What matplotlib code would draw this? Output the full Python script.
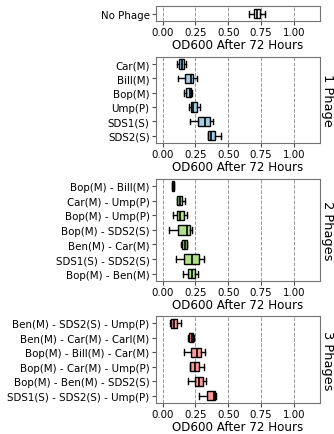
import matplotlib
matplotlib.use('Agg')
import matplotlib.pyplot as plt

# box stats: whisker low, Q1, median, Q3, whisker high
no_phage = ['No Phage']
no_phage_stats = [[0.66, 0.695, 0.72, 0.74, 0.78]]

one_phage = ['Car(M)', 'Bill(M)', 'Bop(M)', 'Ump(P)', 'SDS1(S)', 'SDS2(S)']
one_phage_stats = [
    [0.11, 0.125, 0.145, 0.16, 0.18],
    [0.12, 0.17, 0.22, 0.236, 0.26],
    [0.163, 0.18, 0.206, 0.216, 0.226],
    [0.20, 0.216, 0.236, 0.262, 0.287],
    [0.213, 0.272, 0.326, 0.358, 0.384],
    [0.343, 0.348, 0.369, 0.397, 0.445],
]

two_phage = ['Bop(M) - Bill(M)', 'Car(M) - Ump(P)', 'Bop(M) - Ump(P)',
             'Bop(M) - SDS2(S)', 'Ben(M) - Car(M)', 'SDS1(S) - SDS2(S)',
             'Bop(M) - Ben(M)']
two_phage_stats = [
    [0.072, 0.074, 0.079, 0.084, 0.086],
    [0.11, 0.112, 0.13, 0.148, 0.168],
    [0.079, 0.11, 0.135, 0.163, 0.183],
    [0.046, 0.117, 0.19, 0.206, 0.224],
    [0.137, 0.148, 0.17, 0.186, 0.188],
    [0.102, 0.165, 0.226, 0.277, 0.315],
    [0.153, 0.196, 0.221, 0.247, 0.272],
]

three_phage = ['Ben(M) - SDS2(S) - Ump(P)', 'Ben(M) - Car(M) - Carl(M)',
               'Bop(M) - Bill(M) - Car(M)', 'Bop(M) - Car(M) - Ump(P)',
               'Bop(M) - Ben(M) - SDS2(S)', 'SDS1(S) - SDS2(S) - Ump(P)']
three_phage_stats = [
    [0.054, 0.064, 0.089, 0.11, 0.14],
    [0.193, 0.203, 0.221, 0.236, 0.242],
    [0.165, 0.219, 0.259, 0.293, 0.325],
    [0.206, 0.211, 0.247, 0.277, 0.315],
    [0.191, 0.244, 0.28, 0.308, 0.33],
    [0.277, 0.338, 0.394, 0.402, 0.407],
]

xticks = [0.0, 0.25, 0.5, 0.75, 1.0]


def draw(ax, names, stats, color, side_label=None):
    boxes = []
    for n, s in zip(names, stats):
        boxes.append({'label': n, 'whislo': s[0], 'q1': s[1], 'med': s[2],
                      'q3': s[3], 'whishi': s[4], 'fliers': []})
    pos = list(range(len(names)))
    ax.bxp(boxes, positions=pos, vert=False, widths=0.65, capwidths=0.4,
           patch_artist=True, showfliers=False,
           boxprops=dict(facecolor=color, edgecolor='black', linewidth=1),
           medianprops=dict(color='black', linewidth=1.2),
           whiskerprops=dict(color='black', linewidth=1),
           capprops=dict(color='black', linewidth=1))
    ax.set_ylim(len(names) - 0.5, -0.5)
    ax.set_xlim(-0.05, 1.2)
    ax.set_xticks(xticks)
    ax.set_xticklabels(['%.2f' % t for t in xticks], fontsize=7.4)
    ax.set_yticks(pos)
    ax.set_yticklabels(names, fontsize=7.4)
    ax.tick_params(length=3, pad=1.5, color='0.3')
    ax.xaxis.grid(True, linestyle='--', color='0.6', linewidth=0.7)
    ax.set_axisbelow(True)
    ax.set_xlabel('OD600 After 72 Hours', fontsize=8.6, labelpad=0.5)
    for sp in ax.spines.values():
        sp.set_color('0.45')
    if side_label:
        ax2 = ax.twinx()
        ax2.set_yticks([])
        ax2.set_ylabel(side_label, rotation=-90, fontsize=9.4, labelpad=10)
        for sp in ax2.spines.values():
            sp.set_visible(False)


fig = plt.figure(figsize=(3.34, 4.35), dpi=100)
ax1 = fig.add_axes([0.467, 0.9494, 0.491, 0.0345])
ax2 = fig.add_axes([0.467, 0.669, 0.491, 0.198])
ax3 = fig.add_axes([0.467, 0.352, 0.491, 0.2345])
ax4 = fig.add_axes([0.467, 0.0713, 0.491, 0.2])

draw(ax1, no_phage, no_phage_stats, 'white')
draw(ax2, one_phage, one_phage_stats, '#a6cee3', '1 Phage')
draw(ax3, two_phage, two_phage_stats, '#b2df8a', '2 Phages')
draw(ax4, three_phage, three_phage_stats, '#fb9a99', '3 Phages')

fig.savefig('out.png', dpi=100)
